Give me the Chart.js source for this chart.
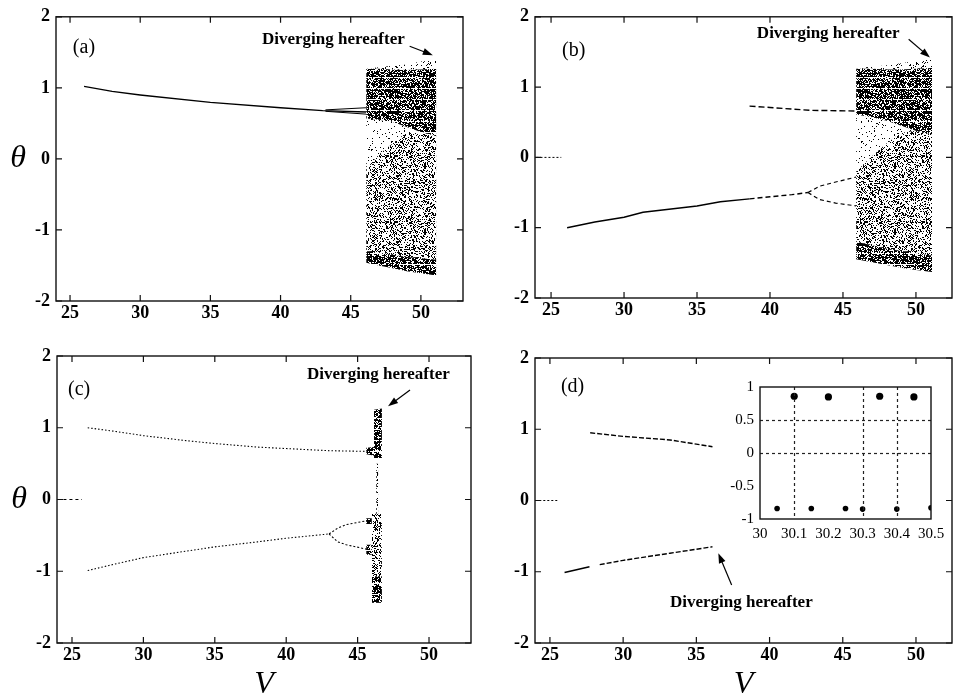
<!DOCTYPE html>
<html>
<head>
<meta charset="utf-8">
<script src="https://cdn.jsdelivr.net/npm/chart.js@4.4.1/dist/chart.umd.min.js"></script>
<style>
  body { margin: 0; background: #fff; }
  #page { position: relative; width: 953px; height: 697px; overflow: hidden; background: #fff; }
  canvas { position: absolute; }
</style>
</head>
<body>
<div id="page">
  <canvas id="pa" width="470" height="330" style="left:0;top:0"></canvas>
  <canvas id="pb" width="483" height="330" style="left:470px;top:0"></canvas>
  <canvas id="pc" width="475" height="367" style="left:0;top:330px"></canvas>
  <canvas id="pd" width="483" height="367" style="left:470px;top:330px"></canvas>
  <canvas id="inset" width="229" height="175" style="left:722px;top:372px"></canvas>
</div>
<script>
// tick labels
const xTicks = [25, 30, 35, 40, 45, 50];
const yTicks = [-2, -1, 0, 1, 2];
const insetXTicks = [30, 30.1, 30.2, 30.3, 30.4, 30.5];
const insetYTicks = [-1, -0.5, 0, 0.5, 1];
const insetGridV = [30.1, 30.3, 30.4];
const insetGridTheta = [0, 0.5];

// (a) branches
const aBranchV = [26, 28, 30, 35, 40, 43, 46.1];
const aBranchTheta = [1.02, 0.95, 0.9, 0.795, 0.72, 0.68, 0.66];
const aSplitV = [43.2, 46.1];
const aSplitUpper = [0.69, 0.72];
const aSplitLower = [0.67, 0.63];
// (a) chaotic region, boundaries of the bands
const aChaosV = [46.1, 47, 48, 49, 50, 51.1];
const aFringeTop = [1.27, 1.29, 1.31, 1.33, 1.37, 1.39];
const aDenseTop = [1.27, 1.27, 1.26, 1.25, 1.26, 1.27];
const aDenseBottom = [0.57, 0.55, 0.52, 0.45, 0.38, 0.32];
const aMidTop = [-0.14, 0.06, 0.22, 0.38, 0.38, 0.32];
const aLowTop = [-1.3, -1.32, -1.35, -1.38, -1.4, -1.42];
const aLowBottom = [-1.46, -1.5, -1.54, -1.58, -1.61, -1.64];

// (b) branches
const bZeroV = [24.0, 25.7];
const bZeroTheta = [0, 0];
const bLowerV = [26.1, 28, 30, 31.3, 35, 36.6, 38.6];
const bLowerTheta = [-1.0, -0.92, -0.85, -0.78, -0.69, -0.63, -0.59];
const bLowerDashV = [38.6, 40, 41.5, 42.6];
const bLowerDashTheta = [-0.59, -0.56, -0.53, -0.5];
const bArmV = [42.6, 43.4, 44.5, 45.9];
const bArmUpper = [-0.5, -0.41, -0.35, -0.28];
const bArmLower = [-0.5, -0.6, -0.65, -0.69];
const bUpperV = [38.6, 40, 42.7, 45.9];
const bUpperTheta = [0.73, 0.71, 0.67, 0.66];
// (b) chaotic region
const bChaosV = [45.9, 47, 48, 49, 50, 51.1];
const bFringeTop = [1.27, 1.29, 1.31, 1.34, 1.37, 1.4];
const bDenseTop = [1.26, 1.26, 1.25, 1.25, 1.26, 1.27];
const bDenseBottom = [0.61, 0.57, 0.52, 0.45, 0.38, 0.33];
const bMidTop = [-0.2, 0.02, 0.2, 0.35, 0.38, 0.33];
const bLowTop = [-1.2, -1.25, -1.3, -1.33, -1.36, -1.4];
const bLowBottom = [-1.45, -1.49, -1.53, -1.57, -1.6, -1.63];

// (c) branches
const cZeroV = [24.4, 25.7];
const cZeroTheta = [0, 0];
const cUpperV = [26.1, 28, 30, 33, 35, 38, 40, 43, 45.8];
const cUpperTheta = [1.0, 0.95, 0.89, 0.82, 0.78, 0.73, 0.71, 0.68, 0.67];
const cLowerV = [26.1, 28, 30, 33, 35, 38, 40, 43.0];
const cLowerTheta = [-0.99, -0.9, -0.81, -0.72, -0.66, -0.59, -0.54, -0.48];
const cArmV = [43.0, 43.6, 44.2, 45.8];
const cArmUpper = [-0.48, -0.4, -0.35, -0.29];
const cArmLower = [-0.48, -0.59, -0.63, -0.7];
// (c) spike before divergence
const cTopV = [46.15, 46.7];
const cTopTop = [1.25, 1.27];
const cTopBottom = [0.58, 0.58];
const cKnotV = [45.6, 46.2];
const cKnotTop = [0.72, 0.73];
const cKnotBottom = [0.63, 0.61];
const cThreadV = [46.3, 46.45];
const cThreadTop = [0.5, 0.5];
const cThreadBottom = [-0.2, -0.2];
const cColV = [46.0, 46.7];
const cColTop = [-0.2, -0.2];
const cColMid = [-1.07, -1.07];
const cColBottom = [-1.44, -1.44];
const cArmKnotV = [45.6, 46.0];
const cArmKnotUpperTop = [-0.26, -0.26];
const cArmKnotUpperBottom = [-0.34, -0.34];
const cArmKnotLowerTop = [-0.63, -0.63];
const cArmKnotLowerBottom = [-0.77, -0.77];

// (d) branches
const dZeroV = [24.0, 25.5];
const dZeroTheta = [0, 0];
const dUpperV = [27.75, 30, 33.2, 36.1];
const dUpperTheta = [0.95, 0.9, 0.85, 0.755];
const dLowerV = [26.0, 27.7];
const dLowerTheta = [-1.01, -0.93];
const dLowerDashV = [28.4, 30, 33.2, 36.1];
const dLowerDashTheta = [-0.9, -0.84, -0.74, -0.65];

// (d) inset
const insetUpperV = [30.1, 30.2, 30.35, 30.45];
const insetUpperTheta = [0.86, 0.85, 0.86, 0.85];
const insetLowerV = [30.05, 30.15, 30.25, 30.3, 30.4, 30.5];
const insetLowerTheta = [-0.84, -0.84, -0.84, -0.85, -0.85, -0.83];

const serif = '"Liberation Serif", "DejaVu Serif", serif';
const tickFont = { family: serif, size: 18, weight: 'bold' };

// dotted texture for the chaotic bands (streak: thinned row every n rows)
function stipple(density, streak) {
  const n = 66;
  const c = document.createElement('canvas');
  c.width = c.height = n;
  const g = c.getContext('2d');
  g.fillStyle = '#000';
  for (let i = 0; i < n; i++) {
    for (let j = 0; j < n; j++) {
      let h = Math.imul(i, 374761393) + Math.imul(j, 668265263);
      h = Math.imul(h ^ (h >>> 13), 1274126177);
      h = (h ^ (h >>> 16)) >>> 0;
      const d = streak && j % streak === 0 ? density * 0.25 : density;
      if ((h % 1000) / 1000 < d) g.fillRect(i, j, 1, 1);
    }
  }
  return g.createPattern(c, 'repeat');
}
const dense = stipple(0.7, 11);
const mid = stipple(0.33);
const light = stipple(0.06);
const fringe = stipple(0.12);

const pts = (vs, ts) => vs.map((v, i) => ({ x: v, y: ts[i] }));

function line(vs, ts, width, dash) {
  return { data: pts(vs, ts), borderColor: '#000', borderWidth: width, borderDash: dash || [],
           pointRadius: 0, fill: false, tension: 0 };
}
function band(vs, top, bottom, pattern) {
  return [
    { data: pts(vs, top), borderWidth: 0, pointRadius: 0, fill: '+1', backgroundColor: pattern },
    { data: pts(vs, bottom), borderWidth: 0, pointRadius: 0, fill: false }
  ];
}

// frame, inward ticks, titles, annotations
const frame = {
  id: 'frame',
  afterDraw(chart, args, o) {
    const { ctx, chartArea: a, scales } = chart;
    const sx = scales.x, sy = scales.y;
    ctx.save();
    if (o.gridV) {
      ctx.strokeStyle = '#222';
      ctx.lineWidth = 1.2;
      ctx.setLineDash([3, 3]);
      o.gridV.forEach(v => {
        const p = Math.round(sx.getPixelForValue(v)) + 0.5;
        ctx.beginPath(); ctx.moveTo(p, a.top); ctx.lineTo(p, a.bottom); ctx.stroke();
      });
      o.gridTheta.forEach(t => {
        const p = Math.round(sy.getPixelForValue(t)) + 0.5;
        ctx.beginPath(); ctx.moveTo(a.left, p); ctx.lineTo(a.right, p); ctx.stroke();
      });
      ctx.setLineDash([]);
    }
    ctx.strokeStyle = '#111';
    ctx.lineWidth = 1.4;
    ctx.strokeRect(a.left, a.top, a.right - a.left, a.bottom - a.top);
    const L = o.tickLen || 0;
    if (L) {
      ctx.lineWidth = 1.2;
      ctx.beginPath();
      sx.ticks.forEach(t => {
        const p = sx.getPixelForValue(t.value);
        ctx.moveTo(p, a.bottom); ctx.lineTo(p, a.bottom - L);
        ctx.moveTo(p, a.top); ctx.lineTo(p, a.top + L);
      });
      sy.ticks.forEach(t => {
        const p = sy.getPixelForValue(t.value);
        ctx.moveTo(a.left, p); ctx.lineTo(a.left + L, p);
        ctx.moveTo(a.right, p); ctx.lineTo(a.right - L, p);
      });
      ctx.stroke();
    }
    ctx.fillStyle = '#000';
    ctx.textBaseline = 'middle';
    if (o.yTitle) {
      ctx.font = 'italic 32px ' + serif;
      ctx.textAlign = 'center';
      ctx.fillText('θ', o.yTitle, (a.top + a.bottom) / 2);
    }
    if (o.xTitle) {
      ctx.font = 'italic 32px ' + serif;
      ctx.textAlign = 'center';
      ctx.fillText('V', (a.left + a.right) / 2, o.xTitle);
    }
    (o.notes || []).forEach(n => {
      ctx.font = n.font;
      ctx.textAlign = 'left';
      ctx.fillText(n.text, sx.getPixelForValue(n.at[0]), sy.getPixelForValue(n.at[1]));
    });
    if (o.arrow) {
      const x1 = sx.getPixelForValue(o.arrow[0][0]), y1 = sy.getPixelForValue(o.arrow[0][1]);
      const x2 = sx.getPixelForValue(o.arrow[1][0]), y2 = sy.getPixelForValue(o.arrow[1][1]);
      const ang = Math.atan2(y2 - y1, x2 - x1);
      ctx.strokeStyle = '#000';
      ctx.lineWidth = 1.2;
      ctx.beginPath(); ctx.moveTo(x1, y1); ctx.lineTo(x2 - 6 * Math.cos(ang), y2 - 6 * Math.sin(ang)); ctx.stroke();
      ctx.beginPath();
      ctx.moveTo(x2, y2);
      ctx.lineTo(x2 - 10 * Math.cos(ang) + 3.5 * Math.sin(ang), y2 - 10 * Math.sin(ang) - 3.5 * Math.cos(ang));
      ctx.lineTo(x2 - 10 * Math.cos(ang) - 3.5 * Math.sin(ang), y2 - 10 * Math.sin(ang) + 3.5 * Math.cos(ang));
      ctx.closePath(); ctx.fill();
    }
    ctx.restore();
  }
};

function makeScales(xMin, xMax, yWidth, xHeight) {
  return {
    x: {
      type: 'linear', min: xMin, max: xMax,
      grid: { display: false, drawTicks: false }, border: { display: false },
      afterBuildTicks: s => { s.ticks = xTicks.map(v => ({ value: v })); },
      afterFit: s => { s.height = xHeight; },
      ticks: { font: tickFont, color: '#000', padding: 2, maxRotation: 0, autoSkip: false, callback: v => String(v) }
    },
    y: {
      type: 'linear', min: -2, max: 2,
      grid: { display: false, drawTicks: false }, border: { display: false },
      afterBuildTicks: s => { s.ticks = yTicks.map(v => ({ value: v })); },
      afterFit: s => { s.width = yWidth; },
      ticks: { font: tickFont, color: '#000', padding: 6, autoSkip: false, callback: v => String(v) }
    }
  };
}

function panel(id, datasets, scales, padding, frameOpts) {
  return new Chart(document.getElementById(id), {
    type: 'line',
    data: { datasets },
    options: {
      responsive: false, animation: false, devicePixelRatio: 1, events: [],
      layout: { padding },
      scales,
      plugins: { legend: { display: false }, tooltip: { enabled: false }, frame: frameOpts }
    },
    plugins: [frame]
  });
}

const noteFont = 'bold 17px ' + serif;
const tagFont = '20px ' + serif;

// (a)
panel('pa', [
  line(aBranchV, aBranchTheta, 1.4),
  line(aSplitV, aSplitUpper, 1),
  line(aSplitV, aSplitLower, 1),
  ...band(aChaosV, aFringeTop, aDenseTop, fringe),
  ...band(aChaosV, aDenseTop, aDenseBottom, dense),
  ...band(aChaosV, aDenseBottom, aMidTop, light),
  ...band(aChaosV, aMidTop, aLowTop, mid),
  ...band(aChaosV, aLowTop, aLowBottom, dense)
], makeScales(24.0, 53.0, 56, 29), { top: 12, right: 7, left: 0, bottom: 0 }, {
  tickLen: 6, yTitle: 18,
  notes: [
    { text: '(a)', at: [25.2, 1.57], font: tagFont },
    { text: 'Diverging hereafter', at: [38.68, 1.68], font: noteFont }
  ],
  arrow: [[49.2, 1.585], [50.85, 1.46]]
});

// (b)
panel('pb', [
  line(bZeroV, bZeroTheta, 1, [2, 2]),
  line(bLowerV, bLowerTheta, 1.5),
  line(bLowerDashV, bLowerDashTheta, 1.4, [5, 3]),
  line(bArmV, bArmUpper, 1.2, [4, 3]),
  line(bArmV, bArmLower, 1.2, [4, 3]),
  line(bUpperV, bUpperTheta, 1.4, [6, 3]),
  ...band(bChaosV, bFringeTop, bDenseTop, fringe),
  ...band(bChaosV, bDenseTop, bDenseBottom, dense),
  ...band(bChaosV, bDenseBottom, bMidTop, light),
  ...band(bChaosV, bMidTop, bLowTop, mid),
  ...band(bChaosV, bLowTop, bLowBottom, dense)
], makeScales(23.9, 52.47, 65, 32), { top: 10, right: 1, left: 0, bottom: 0 }, {
  tickLen: 6,
  notes: [
    { text: '(b)', at: [25.75, 1.51], font: tagFont },
    { text: 'Diverging hereafter', at: [39.1, 1.76], font: noteFont }
  ],
  arrow: [[49.5, 1.68], [50.96, 1.42]]
});

// (c)
panel('pc', [
  line(cZeroV, cZeroTheta, 1, [3, 3]),
  line(cUpperV, cUpperTheta, 1.1, [1.5, 2]),
  line(cLowerV, cLowerTheta, 1.1, [1.5, 2]),
  line(cArmV, cArmUpper, 1.1, [2, 2]),
  line(cArmV, cArmLower, 1.1, [2, 2]),
  ...band(cTopV, cTopTop, cTopBottom, dense),
  ...band(cKnotV, cKnotTop, cKnotBottom, dense),
  ...band(cThreadV, cThreadTop, cThreadBottom, mid),
  ...band(cColV, cColTop, cColMid, mid),
  ...band(cColV, cColMid, cColBottom, dense),
  ...band(cArmKnotV, cArmKnotUpperTop, cArmKnotUpperBottom, dense),
  ...band(cArmKnotV, cArmKnotLowerTop, cArmKnotLowerBottom, dense)
], makeScales(23.95, 52.94, 57, 54), { top: 26, right: 4, left: 0, bottom: 0 }, {
  tickLen: 6, yTitle: 19, xTitle: 355,
  notes: [
    { text: '(c)', at: [24.72, 1.526], font: tagFont },
    { text: 'Diverging hereafter', at: [41.46, 1.735], font: noteFont }
  ],
  arrow: [[48.67, 1.526], [47.13, 1.3]]
});

// (d)
panel('pd', [
  line(dZeroV, dZeroTheta, 1, [2, 2]),
  line(dUpperV, dUpperTheta, 1.4, [5, 2]),
  line(dLowerV, dLowerTheta, 1.6),
  line(dLowerDashV, dLowerDashTheta, 1.4, [5, 2])
], makeScales(23.98, 52.46, 65, 54), { top: 28, right: 1, left: 0, bottom: 0 }, {
  tickLen: 6, xTitle: 355,
  notes: [
    { text: '(d)', at: [25.75, 1.59], font: tagFont },
    { text: 'Diverging hereafter', at: [33.2, -1.44], font: noteFont }
  ],
  arrow: [[37.41, -1.186], [36.5, -0.74]]
});

// (d) inset
const insetFont = { family: serif, size: 15 };
new Chart(document.getElementById('inset'), {
  type: 'scatter',
  data: {
    datasets: [
      { data: pts(insetUpperV, insetUpperTheta), pointRadius: 3.6, backgroundColor: '#000', borderWidth: 0 },
      { data: pts(insetLowerV, insetLowerTheta), pointRadius: 2.8, backgroundColor: '#000', borderWidth: 0 }
    ]
  },
  options: {
    responsive: false, animation: false, devicePixelRatio: 1, events: [],
    layout: { padding: { top: 9, right: 20, left: 0, bottom: 0 } },
    scales: {
      x: {
        type: 'linear', min: 30, max: 30.5,
        grid: { display: false, drawTicks: false }, border: { display: false },
        afterBuildTicks: s => { s.ticks = insetXTicks.map(v => ({ value: v })); },
        afterFit: s => { s.height = 28; },
        ticks: { font: insetFont, color: '#000', padding: 6, maxRotation: 0, autoSkip: false, callback: v => String(v) }
      },
      y: {
        type: 'linear', min: -1, max: 1,
        grid: { display: false, drawTicks: false }, border: { display: false },
        afterBuildTicks: s => { s.ticks = insetYTicks.map(v => ({ value: v })); },
        afterFit: s => { s.width = 38; },
        ticks: { font: insetFont, color: '#000', padding: 6, autoSkip: false, callback: v => String(v) }
      }
    },
    plugins: {
      legend: { display: false }, tooltip: { enabled: false },
      frame: { tickLen: 0, gridV: insetGridV, gridTheta: insetGridTheta }
    }
  },
  plugins: [frame]
});
</script>
</body>
</html>
